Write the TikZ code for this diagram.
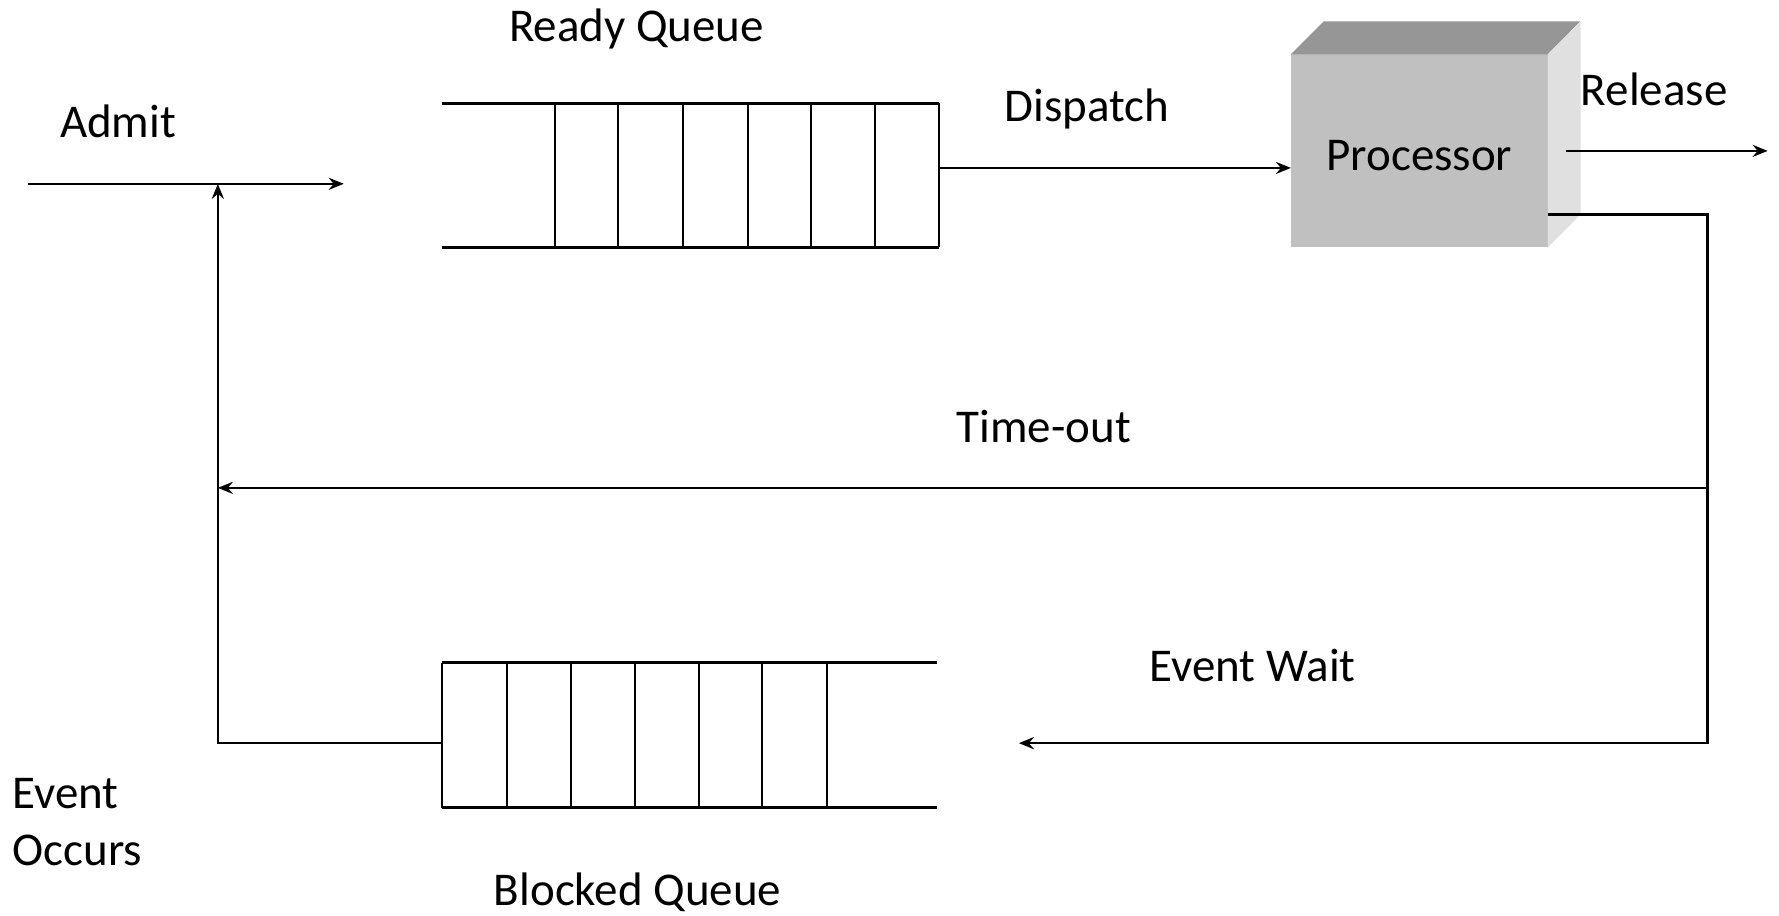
\documentclass[tikz,border=0pt]{standalone}
\usepackage{fontspec}
\setmainfont{Carlito}
\usetikzlibrary{arrows.meta,calc}
\definecolor{frontgray}{HTML}{C0C0C0}
\definecolor{topgray}{HTML}{969696}
\definecolor{sidegray}{HTML}{E0E0E0}
\begin{document}
\begin{tikzpicture}[x=1.1346pt,y=-1.1346pt,
  lbl/.style={anchor=base, inner sep=0pt, font=\fontsize{47}{56}\selectfont},
  lblw/.style={anchor=base west, inner sep=0pt, font=\fontsize{47}{56}\selectfont},
  qline/.style={line width=3.2pt},
  cell/.style={line width=2pt},
  conn/.style={line width=2.5pt},
  arr/.style={conn,-{Stealth[length=15pt,width=12pt,inset=5pt]}}]
\useasboundingbox (0,0) rectangle (1568,807);

% processor
\node (proc) [fill=frontgray, minimum width=256.4pt, minimum height=192.9pt, inner sep=0pt,
  text height=39pt, text depth=0pt,
  font=\fontsize{47}{56}\selectfont] at (1251,133) {Processor};
\fill[topgray] (proc.north west) -- ++(29,-29) -- ++(226,0) -- (proc.north east) -- cycle;
\fill[sidegray] (proc.north east) -- ++(29,-29) -- ++(0,170) -- (proc.south east) -- cycle;

% coordinates
\coordinate (admitL) at (25,162);
\coordinate (admitR) at (303,162);
\coordinate (join) at (192,162);
\coordinate (bl) at (192,655);
\coordinate (rqOut) at (828,148);
\coordinate (relS) at (1380,133);
\coordinate (relE) at (1558,133);
\coordinate (pOut) at (1364,189);
\coordinate (c1) at (1505,189);
\coordinate (c2) at (1505,655);
\coordinate (ewEnd) at (898,655);
\coordinate (toS) at (1505,430);
\coordinate (toE) at (192,430);
\coordinate (bqIn) at (390,655);

% ready queue
\draw[qline] (390,91) -- (828,91);
\draw[qline] (390,218) -- (828,218);
\foreach \x in {489,545,602,659,715,771,828} \draw[cell] (\x,91) -- (\x,218);

% blocked queue
\draw[qline] (390,584) -- (826,584);
\draw[qline] (390,712) -- (826,712);
\foreach \x in {390,447,503,560,616,672,729} \draw[cell] (\x,584) -- (\x,712);

% connectors
\draw[arr] (admitL) -- (admitR);
\draw[arr] (bqIn) -- (bl) -- (join);
\draw[arr] (rqOut) -- (proc.west |- rqOut);
\draw[arr] (relS) -- (relE);
\draw[arr] (pOut) -- (c1) -- (c2) -- (ewEnd);
\draw[arr] (toS) -- (toE);

% labels
\node[lbl] (lrq) at (561,37) {Ready Queue};
\node[lbl] (ladm) at (104,121) {Admit};
\node[lbl] (ldis) at (958,107) {Dispatch};
\node[lbl] (lrel) at (1458,93) {Release};
\node[lbl] (lto) at (920,390) {Time-out};
\node[lbl] (lew) at (1104,601) {Event Wait};
\node[lblw] (lev) at (11,713) {Event};
\node[lblw] (loc) at (11,763) {Occurs};
\node[lbl] (lbq) at (562,798) {Blocked Queue};
\end{tikzpicture}
\end{document}
